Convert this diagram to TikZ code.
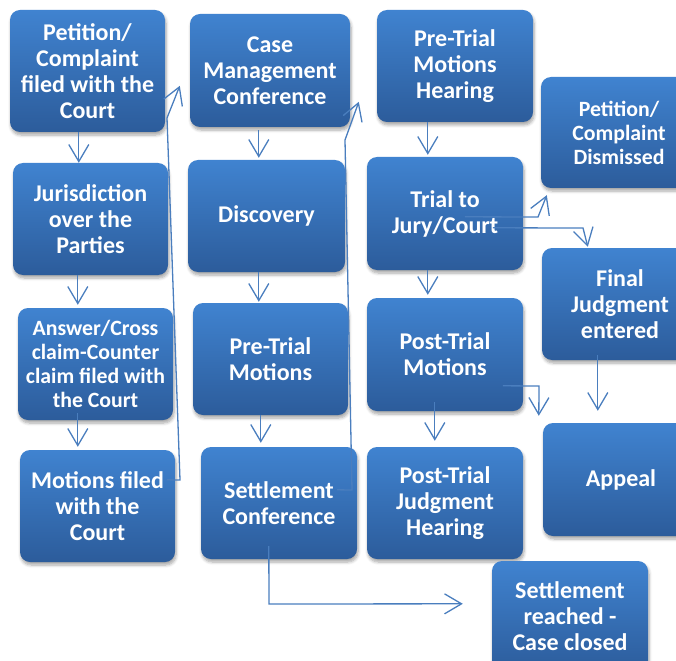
\documentclass[tikz,border=0pt]{standalone}
\usepackage{fontspec}
\setmainfont{Carlito}
\usetikzlibrary{arrows.meta,calc,shadows.blur}
\definecolor{btop}{RGB}{64,131,208}
\definecolor{bbot}{RGB}{44,92,155}
\definecolor{lc}{RGB}{74,126,190}
\tikzset{
  box/.style={rounded corners=10pt, top color=btop, bottom color=bbot, draw=none,
    text=white, align=center, inner sep=0pt,
    font=\fontsize{24}{26}\selectfont\bfseries,
    blur shadow={shadow xshift=1pt, shadow yshift=-3pt, shadow blur steps=6, shadow opacity=35, shadow blur radius=3pt}},
  smallbox/.style={box, font=\fontsize{21.8}{24}\selectfont\bfseries},
  arr/.style={draw=lc, line width=1.3pt, -{Straight Barb[length=17pt,width=20pt,line width=1.3pt]}}
}
\begin{document}
\begin{tikzpicture}[x=1pt,y=-1pt]
\useasboundingbox (0,0) rectangle (676,660);
\clip (0,0) rectangle (676,660);
% column 1
\node[box, minimum width=155pt, minimum height=122pt] (b1) at (87.5,71) {Petition/\\Complaint\\filed with the\\Court};
\node[box, minimum width=155pt, minimum height=112pt] (b2) at (90.5,219) {Jurisdiction\\over the\\Parties};
\node[smallbox, minimum width=155pt, minimum height=112pt] (b3) at (95.5,364) {Answer/Cross\\claim-Counter\\claim filed with\\the Court};
\node[box, minimum width=155pt, minimum height=112pt] (b4) at (97.5,506) {Motions filed\\with the\\Court};
% column 2
\node[box, minimum width=160pt, minimum height=113pt] (b5) at (270,70.5) {Case\\Management\\Conference};
\node[box, minimum width=157pt, minimum height=112pt] (b6) at (266.5,216) {Discovery};
\node[box, minimum width=155pt, minimum height=112pt] (b7) at (270.5,359) {Pre-Trial\\Motions};
\node[box, minimum width=156pt, minimum height=112pt] (b8) at (279,503) {Settlement\\Conference};
% column 3
\node[box, minimum width=156pt, minimum height=112pt] (b9) at (455,66) {Pre-Trial\\Motions\\Hearing};
\node[box, minimum width=156pt, minimum height=113pt] (b10) at (445,213.5) {Trial to\\Jury/Court};
\node[box, minimum width=156pt, minimum height=113pt] (b11) at (445,354.5) {Post-Trial\\Motions};
\node[box, minimum width=156pt, minimum height=112pt] (b12) at (445,503) {Post-Trial\\Judgment\\Hearing};
% column 4
\node[smallbox, minimum width=156pt, minimum height=111pt] (b13) at (619,132.5) {Petition/\\Complaint\\Dismissed};
\node[box, minimum width=156pt, minimum height=112pt] (b14) at (620,304) {Final\\Judgment\\entered};
\node[box, minimum width=156pt, minimum height=113pt] (b15) at (621,479.5) {Appeal};
\node[box, minimum width=156pt, minimum height=111pt] (b16) at (570,616.5) {Settlement\\reached -\\Case closed};
% connectors
\draw[arr] ($(b1.south west)+(69,0)$) -- ($(b2.north west)+(66,0)$);
\draw[arr] ($(b2.south west)+(65,0)$) -- ($(b3.north west)+(60,-3)$);
\draw[arr] ($(b3.south west)+(60,-7)$) -- ($(b4.north west)+(58,-3)$);
\draw[arr] ($(b5.south west)+(69,3)$) -- ($(b6.north west)+(71,-2)$);
\draw[arr] ($(b6.south west)+(71,0)$) -- ($(b7.north west)+(66,-1)$);
\draw[arr] ($(b7.south west)+(68,0)$) -- ($(b8.north west)+(60,-4)$);
\draw[arr] ($(b9.south west)+(51,0)$) -- ($(b10.north west)+(61,-2)$);
\draw[arr] ($(b10.south west)+(61,0)$) -- ($(b11.north west)+(61,-3)$);
\draw[arr] ($(b11.south west)+(68,-9)$) -- ($(b12.north west)+(68,-6)$);
\draw[arr] ($(b4.north east)+(-8,30)$) -- (180,480) -- (167,118) -- ($(b5.north west)+(-10,72)$);
\draw[arr] ($(b8.north east)+(-20,43)$) -- (352,490) -- (345,140) -- ($(b9.north west)+(-18,92)$);
\draw[arr] ($(b10.north west)+(98,60)$) -- (538,217) -- ($(b13.south west)+(6,7)$);
\draw[arr] ($(b10.north west)+(126,71)$) -- (583,228) -- ($(b14.north west)+(46,-1)$);
\draw[arr] ($(b11.north west)+(136,88)$) -- (539,386) -- ($(b15.north west)+(-4,-7)$);
\draw[arr] ($(b14.south west)+(56,-5)$) -- ($(b15.north west)+(55,-12)$);
\draw[arr] ($(b8.south west)+(68,-13)$) -- (269,604) -- ($(b16.north west)+(-29,43)$);
\end{tikzpicture}
\end{document}
